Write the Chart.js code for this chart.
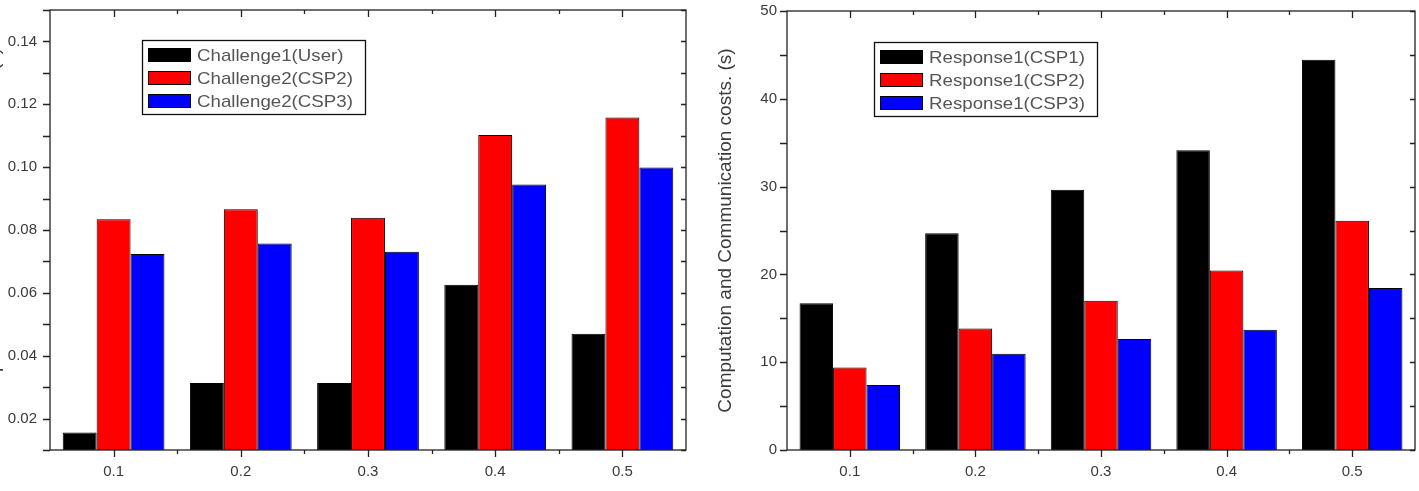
<!DOCTYPE html>
<html>
<head>
<meta charset="utf-8">
<script src="https://cdn.jsdelivr.net/npm/chart.js@4/dist/chart.umd.min.js"></script>
<style>
  html, body { margin: 0; padding: 0; background: #fff; overflow: hidden; }
  body { width: 1419px; height: 491px; position: relative; }
  .panel { position: absolute; top: 0; }
  #leftPanel { left: -40px; width: 740px; height: 491px; }
  #rightPanel { left: 700px; width: 719px; height: 491px; }
</style>
</head>
<body>
<div class="panel" id="leftPanel"><canvas id="challengeChart" width="740" height="491"></canvas></div>
<div class="panel" id="rightPanel"><canvas id="responseChart" width="719" height="491"></canvas></div>
<script>
// Данные
const categories = ["0.1", "0.2", "0.3", "0.4", "0.5"];

const challengeUser = [0.0156, 0.0313, 0.0313, 0.0626, 0.047];
const challengeCsp2 = [0.0834, 0.0866, 0.0839, 0.1102, 0.1158];
const challengeCsp3 = [0.0724, 0.0757, 0.0731, 0.0945, 0.0999];

const responseCsp1 = [16.7, 24.7, 29.65, 34.15, 44.45];
const responseCsp2 = [9.4, 13.85, 17.0, 20.45, 26.1];
const responseCsp3 = [7.4, 10.95, 12.65, 13.7, 18.45];

const yTitle = "Computation and Communication costs. (s)";

const FONT = "'Liberation Sans', Arial, sans-serif";
const TEXT_COLOR = "#3a3a3a";

// Рамка и засечки в стиле Origin
const frameTicks = {
  id: "frameTicks",
  afterDatasetsDraw(chart) {
    const { ctx, chartArea: a, scales } = chart;
    const x = scales.x;
    const y = scales.y;
    ctx.save();
    ctx.strokeStyle = "#222";
    ctx.lineWidth = 1.3;
    ctx.strokeRect(a.left, a.top, a.right - a.left, a.bottom - a.top);
    ctx.beginPath();
    y.ticks.forEach((t) => {
      const py = Math.round(y.getPixelForValue(t.value)) + 0.5;
      ctx.moveTo(a.left - 7, py);
      ctx.lineTo(a.left, py);
      ctx.moveTo(a.right, py);
      ctx.lineTo(a.right - 5, py);
    });
    const n = x.ticks.length;
    for (let i = 0; i < n; i++) {
      const px = Math.round(x.getPixelForTick(i)) + 0.5;
      ctx.moveTo(px, a.bottom);
      ctx.lineTo(px, a.bottom + 7);
      ctx.moveTo(px, a.top);
      ctx.lineTo(px, a.top + 7);
    }
    for (let i = 1; i < n; i++) {
      const px = Math.round(x.getPixelForValue(i - 0.5)) + 0.5;
      ctx.moveTo(px, a.bottom);
      ctx.lineTo(px, a.bottom + 4);
      ctx.moveTo(px, a.top);
      ctx.lineTo(px, a.top + 4);
    }
    ctx.stroke();
    ctx.restore();
  },
};

// Легенда в рамке внутри области графика
const boxLegend = {
  id: "boxLegend",
  afterDraw(chart, args, opts) {
    const { ctx, chartArea: a } = chart;
    const bx = a.left + opts.dx;
    const by = a.top + opts.dy;
    ctx.save();
    ctx.fillStyle = "#fff";
    ctx.fillRect(bx, by, 223, 74);
    ctx.strokeStyle = "#111";
    ctx.lineWidth = 1.3;
    ctx.strokeRect(bx + 0.5, by + 0.5, 223, 74);
    chart.data.datasets.forEach((ds, i) => {
      const sy = by + 8 + i * 23;
      ctx.fillStyle = ds.backgroundColor;
      ctx.fillRect(bx + 6, sy, 43, 14);
      ctx.lineWidth = 1;
      ctx.strokeStyle = "#000";
      ctx.strokeRect(bx + 6.5, sy + 0.5, 42, 13);
      // текст в оригинале немного растянут по горизонтали
      ctx.save();
      ctx.translate(bx + 55, sy + 8);
      ctx.scale(1.1, 1);
      ctx.fillStyle = "#555";
      ctx.font = "17px " + FONT;
      ctx.textBaseline = "middle";
      ctx.textAlign = "left";
      ctx.fillText(ds.label, 0, 0);
      ctx.restore();
    });
    ctx.restore();
  },
};

function makeDataset(label, values, color) {
  return {
    label,
    data: values,
    backgroundColor: color,
    borderColor: "#000",
    borderWidth: 1,
    categoryPercentage: 0.8,
    barPercentage: 1.0,
  };
}

function makeChart(canvasId, datasets, cfg) {
  return new Chart(document.getElementById(canvasId), {
    type: "bar",
    data: { labels: categories, datasets },
    plugins: [frameTicks, boxLegend],
    options: {
      responsive: false,
      animation: false,
      layout: { padding: { left: 0, top: cfg.top, right: cfg.right, bottom: 0 } },
      plugins: {
        legend: { display: false },
        tooltip: { enabled: false },
        boxLegend: { dx: cfg.legendDx, dy: cfg.legendDy },
      },
      scales: {
        x: {
          grid: { display: false },
          border: { display: false },
          ticks: { color: TEXT_COLOR, font: { family: FONT, size: 15 }, padding: 5, maxRotation: 0 },
          afterFit: (s) => {
            s.height = 41;
            s.paddingLeft = 0;
            s.paddingRight = 0;
          },
        },
        y: {
          min: cfg.min,
          max: cfg.max,
          grid: { display: false },
          border: { display: false },
          ticks: {
            stepSize: cfg.step,
            color: TEXT_COLOR,
            font: { family: FONT, size: 15 },
            padding: cfg.labelPad,
            callback: cfg.label,
          },
          title: {
            display: true,
            text: yTitle,
            color: TEXT_COLOR,
            font: { family: FONT, size: 19 },
            padding: { top: cfg.titlePad, bottom: 0 },
          },
          afterFit: (s) => {
            s.width = cfg.axisWidth;
            s.paddingTop = 0;
            s.paddingBottom = 0;
          },
        },
      },
    },
  });
}

makeChart(
  "challengeChart",
  [
    makeDataset("Challenge1(User)", challengeUser, "#000000"),
    makeDataset("Challenge2(CSP2)", challengeCsp2, "#ff0000"),
    makeDataset("Challenge2(CSP3)", challengeCsp3, "#0000ff"),
  ],
  {
    top: 10, right: 14, min: 0.01, max: 0.15, step: 0.01,
    axisWidth: 90, labelPad: 5, titlePad: 22, legendDx: 92, legendDy: 30,
    label: (v) => {
      const k = Math.round(v * 100);
      return k % 2 === 0 ? (k / 100).toFixed(2) : "";
    },
  }
);

makeChart(
  "responseChart",
  [
    makeDataset("Response1(CSP1)", responseCsp1, "#000000"),
    makeDataset("Response1(CSP2)", responseCsp2, "#ff0000"),
    makeDataset("Response1(CSP3)", responseCsp3, "#0000ff"),
  ],
  {
    top: 11, right: 4, min: 0, max: 50, step: 5,
    axisWidth: 87, labelPad: 2, titlePad: 14, legendDx: 87, legendDy: 31,
    label: (v) => (v % 10 === 0 ? String(v) : ""),
  }
);
</script>
</body>
</html>
